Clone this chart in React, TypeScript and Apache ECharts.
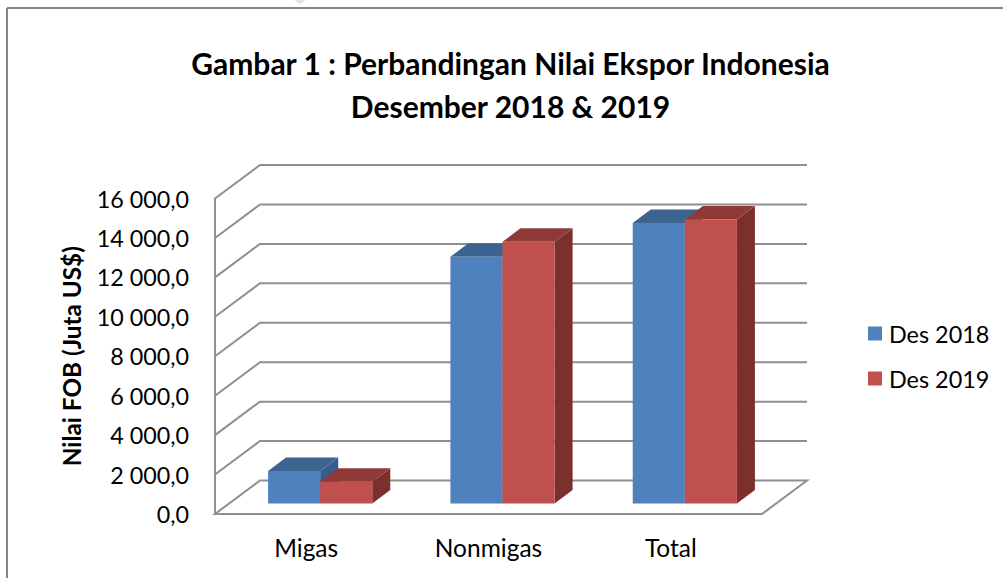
import React, { useEffect, useRef } from "react";
import * as echarts from "echarts";

const categories = ["Migas", "Nonmigas", "Total"];
const des2018 = [1650, 12510, 14220];
const des2019 = [1100, 13270, 14400];
const yTicks = [2000, 4000, 6000, 8000, 10000, 12000, 14000, 16000];
const titleLines = ["Gambar 1 : Perbandingan Nilai Ekspor Indonesia", "Desember 2018 & 2019"];
const font = "Lato";

const DEPTH_X = 45;
const DEPTH_Y = 33.5;
const BAR_DX = 14;
const BAR_DY = 10.5;
const BAR_DEPTH_X = 18;
const BAR_DEPTH_Y = 13.5;
const GRID_COLOR = "#8f8f8f";

const fmt = (v: number) => {
  const s = String(Math.round(v));
  const head = s.length > 3 ? s.slice(0, s.length - 3) + " " + s.slice(-3) : s;
  return head + ",0";
};

function barRenderer(slot: number, front: string, top: string, side: string) {
  return (_p: any, api: any) => {
    const base = api.coord([api.value(0), 0]);
    const tip = api.coord([api.value(0), api.value(1)]);
    const band = api.size([1, 0])[0];
    const w = band / 3.5;
    const x0 = base[0] + BAR_DX - w + slot * w;
    const x1 = x0 + w;
    const y0 = base[1] - BAR_DY;
    const y1 = tip[1] - BAR_DY;
    const dx = BAR_DEPTH_X;
    const dy = BAR_DEPTH_Y;
    const poly = (points: number[][], fill: string) => ({
      type: "polygon",
      shape: { points },
      style: { fill, stroke: null },
    });
    return {
      type: "group",
      children: [
        poly([[x1, y0], [x1 + dx, y0 - dy], [x1 + dx, y1 - dy], [x1, y1]], side),
        poly([[x0, y1], [x0 + dx, y1 - dy], [x1 + dx, y1 - dy], [x1, y1]], top),
        poly([[x0, y0], [x1, y0], [x1, y1], [x0, y1]], front),
      ],
    };
  };
}

export default function App() {
  const ref = useRef<HTMLDivElement>(null);
  useEffect(() => {
    document.body.style.margin = "0";
    const chart = echarts.init(ref.current!, undefined, { renderer: "svg" });
    const line = { stroke: GRID_COLOR, lineWidth: 2, fill: null };
    chart.setOption({
      animation: false,
      backgroundColor: "#fff",
      textStyle: { fontFamily: font },
      title: {
        text: titleLines.join("\n"),
        left: 505.5,
        top: 36,
        textAlign: "center",
        textStyle: { fontFamily: font, fontSize: 30, fontWeight: "bold", color: "#000", lineHeight: 43 },
      },
      legend: {
        orient: "vertical",
        left: 868,
        top: 322,
        padding: 0,
        icon: "rect",
        itemWidth: 14,
        itemHeight: 14,
        itemGap: 22,
        data: ["Des 2018", "Des 2019"],
        textStyle: { fontFamily: font, fontSize: 23.4, color: "#000", padding: [0, 0, 0, 2] },
      },
      grid: { left: 215, top: 198.5, width: 547, height: 315.5, containLabel: false },
      xAxis: {
        type: "category",
        data: categories,
        axisLine: { show: false },
        axisTick: { show: false },
        axisLabel: { fontFamily: font, fontSize: 24.5, color: "#000", margin: 21 },
      },
      yAxis: {
        type: "value",
        min: 0,
        max: 16000,
        interval: 2000,
        splitLine: { show: false },
        axisLine: { show: true, lineStyle: { color: GRID_COLOR, width: 2 } },
        axisTick: { show: false },
        axisLabel: { fontFamily: font, fontSize: 23.3, color: "#000", margin: 26, formatter: fmt },
        name: "Nilai FOB (Juta US$)",
        nameLocation: "middle",
        nameRotate: 90,
        nameGap: 132,
        nameTextStyle: { fontFamily: font, fontSize: 24.3, fontWeight: "bold", color: "#000" },
      },
      graphic: [
        { type: "line", silent: true, shape: { x1: 7, y1: 8, x2: 1003, y2: 8 }, style: { stroke: "#868686", lineWidth: 2 } },
        { type: "line", silent: true, shape: { x1: 7, y1: 8, x2: 7, y2: 578 }, style: { stroke: "#868686", lineWidth: 2 } },
        { type: "polygon", silent: true, shape: { points: [[294, 0], [306, 0], [300, 4]] }, style: { fill: "#e4e4e4" } },
      ],
      series: [
        {
          type: "custom",
          name: "grid",
          silent: true,
          z: 1,
          data: [[0, 0]],
          encode: { x: 0, y: 1 },
          renderItem: (p: any, api: any) => {
            const c = p.coordSys;
            const yB = api.coord([0, 0])[1];
            const xL = c.x;
            const xR = c.x + c.width;
            return {
              type: "polygon",
              shape: { points: [[xL, yB], [xR, yB], [xR + DEPTH_X, yB - DEPTH_Y], [xL + DEPTH_X, yB - DEPTH_Y]] },
              style: line,
            };
          },
        },
        {
          type: "custom",
          name: "walls",
          silent: true,
          z: 1,
          data: yTicks.map((t) => [0, t]),
          encode: { x: 0, y: 1 },
          renderItem: (p: any, api: any) => {
            const c = p.coordSys;
            const y = api.coord([0, api.value(1)])[1];
            const xL = c.x;
            const xR = c.x + c.width;
            return {
              type: "polyline",
              shape: { points: [[xL, y], [xL + DEPTH_X, y - DEPTH_Y], [xR + DEPTH_X, y - DEPTH_Y]] },
              style: line,
            };
          },
        },
        {
          type: "custom",
          name: "Des 2018",
          z: 2,
          itemStyle: { color: "#4F81BD" },
          data: des2018.map((v, i) => [i, v]),
          encode: { x: 0, y: 1 },
          renderItem: barRenderer(0, "#4F81BD", "#3D6390", "#385D8A"),
        },
        {
          type: "custom",
          name: "Des 2019",
          z: 3,
          itemStyle: { color: "#C0504D" },
          data: des2019.map((v, i) => [i, v]),
          encode: { x: 0, y: 1 },
          renderItem: barRenderer(1, "#C0504D", "#8F3A38", "#7C302E"),
        },
      ],
    });
    return () => chart.dispose();
  }, []);
  return <div ref={ref} style={{ width: 1003, height: 578 }} />;
}
